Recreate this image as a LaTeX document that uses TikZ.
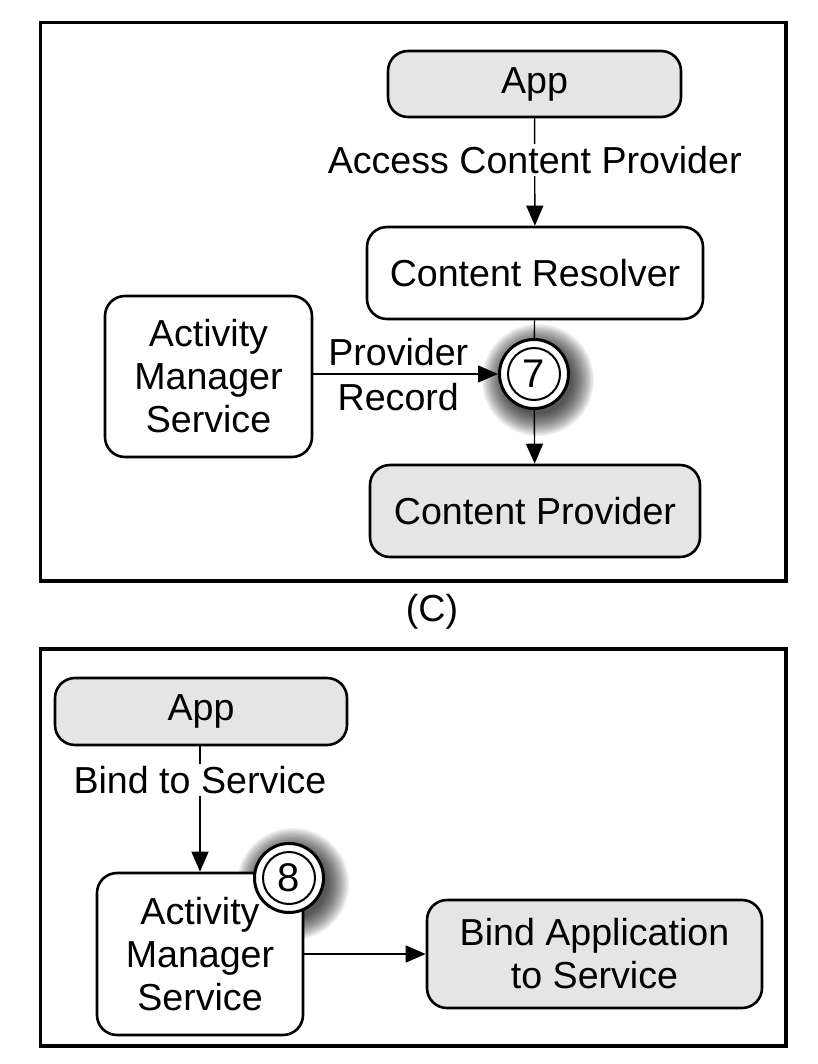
\documentclass[tikz,border=0pt]{standalone}
\usepackage{fontspec}
\setmainfont{Liberation Sans}
\usetikzlibrary{arrows.meta,calc}

\tikzset{
  x=1pt, y=-1pt,
  frame/.style={draw=black, line width=3.2pt},
  box/.style={draw=black, line width=2.6pt, rounded corners=20pt, fill=white,
              inner sep=0pt, align=center, font=\bodyfont},
  graybox/.style={box, fill=boxgray},
  lbl/.style={font=\bodyfont, fill=white, inner sep=2pt, align=center},
  conn/.style={line width=1.4pt},
  arr/.style={conn, -{Triangle[length=20pt,width=17pt]}},
  stepmark/.style={circle, draw=black, line width=3pt, fill=white,
                   minimum size=69pt, inner sep=0pt, font=\markfont},
}
\definecolor{boxgray}{gray}{0.898}
\newcommand{\bodyfont}{\fontsize{37.6}{43}\selectfont}
\newcommand{\markfont}{\fontsize{40}{44}\selectfont}
% soft shadow behind a step marker
\newcommand{\softshadow}[1]{%
  \foreach \k in {0,...,17}{%
    \pgfmathsetmacro{\rr}{34+1.3*\k}%
    \fill[black, opacity=0.055] ($(#1)+(4,6)$) circle[radius=\rr pt];
  }%
}

\begin{document}
\begin{tikzpicture}
\useasboundingbox (0,0) rectangle (817,1064);
\fill[white] (0,0) rectangle (817,1064);

% ---------- panel (C) ----------
\draw[frame] (40.5,22.5) rectangle (786,581);

\coordinate (c7) at (534,374);
\softshadow{c7}

\node[graybox, minimum width=293pt, minimum height=66pt] (appC) at (534.5,84) {App};
\node[box, minimum width=336pt, minimum height=92pt] (resolver) at (535,273) {Content Resolver};
\node[box, minimum width=207pt, minimum height=161pt] (amsC) at (208.5,376.5) {Activity\\Manager\\Service};
\node[graybox, minimum width=330pt, minimum height=92pt] (provider) at (535,511) {Content Provider};
\node[stepmark] (s7) at (c7) {7};
\draw[line width=2pt] (s7.center) circle[radius=26pt];

\draw[arr] (appC) -- node[lbl, pos=0.39] {Access Content Provider} (resolver);
\draw[conn] (resolver) -- (s7);
\draw[arr] (s7) -- (provider);
\draw[arr] (amsC.east |- s7) -- node[font=\bodyfont, above=4pt, pos=0.46] {Provider}
                                 node[font=\bodyfont, below=5pt, pos=0.46] {Record} (s7.west);

\node[font=\bodyfont] (capC) at (432,612) {(C)};

% ---------- panel (D) ----------
\draw[frame] (40.5,649) rectangle (786,1046);

\coordinate (c8) at (289,878);
\softshadow{c8}

\node[graybox, minimum width=292pt, minimum height=67pt] (appD) at (201,711.5) {App};
\node[box, minimum width=206pt, minimum height=162pt] (amsD) at (200,954) {Activity\\Manager\\Service};
\node[graybox, minimum width=335pt, minimum height=108pt] (bindapp) at (594.5,954) {Bind Application\\to Service};
\node[stepmark] (s8) at (c8) {8};
\draw[line width=2pt] (s8.center) circle[radius=26pt];

\draw[arr] (appD.south -| amsD.north) -- node[lbl, pos=0.27] {Bind to Service} (amsD.north);
\draw[arr] (amsD) -- (bindapp);
\end{tikzpicture}
\end{document}
